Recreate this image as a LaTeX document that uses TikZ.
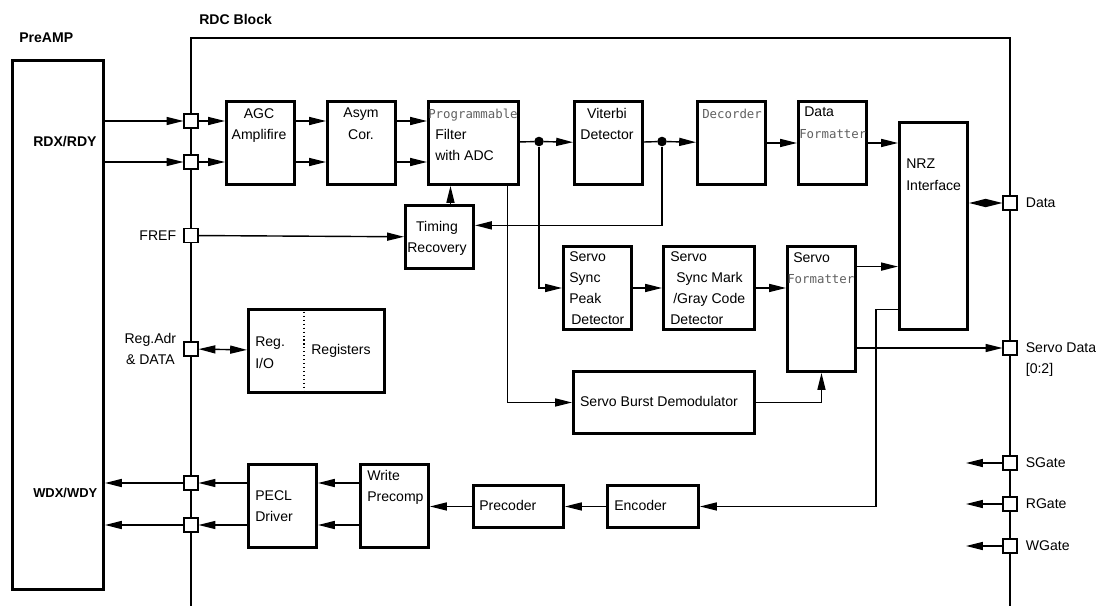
\documentclass[tikz,border=0pt]{standalone}
\usepackage{fontspec}
\setmainfont{Liberation Sans}
\newfontfamily\rdcmonofont{DejaVu Sans Mono}
\usetikzlibrary{positioning, arrows.meta}
\definecolor{mongray}{RGB}{95,95,95}
\newcommand{\grmono}[1]{{\rdcmonofont\fontsize{8.8}{15}\selectfont\color{mongray}#1}}

\begin{document}
\begin{tikzpicture}[x=0.25mm, y=-0.25mm,
    >={Triangle[length=4.2mm, width=2mm]},
    every node/.style={font=\fontsize{10}{15}\selectfont},
    blk/.style 2 args={draw, line width=2.1pt, inner sep=0, anchor=north west,
        minimum width=#1*0.25mm, minimum height=#2*0.25mm},
    port/.style={draw, fill=white, line width=0.8pt, inner sep=0, minimum size=3.5mm},
    dot/.style={circle, fill, inner sep=0, minimum size=2.4mm},
    txt/.style={inner sep=0, align=left, anchor=north west},
    ctxt/.style={inner sep=0, align=center, anchor=north},
    plbl/.style={inner sep=0},
    ttl/.style={inner sep=0, anchor=west, font=\fontsize{10}{15}\selectfont\bfseries},
    wire/.style={line width=1pt}]
    \useasboundingbox (0,0) rectangle (1096,606);

    % titles
    \node[ttl] (tpre) at (19,38) {PreAMP};
    \node[ttl] (trdc) at (199,19) {RDC Block};

    % PreAMP
    \node[blk={91}{529}] (pre) at (11,59) {};
    \node[ttl] (trdx) at (33,142) {RDX/RDY};
    \node[ttl, font=\fontsize{9.2}{15}\selectfont\bfseries] (twdx) at (33,493) {WDX/WDY};

    % RDC block outline
    \draw[line width=2.1pt] (191,606) -- (191,38) -- (1010,38) -- (1010,606);

    % read path
    \node[blk={68}{83}] (agc) at (225,100) {};
    \node[ctxt] (tagc) at (259,108) {AGC\\Amplifire};
    \node[blk={68}{83}] (asym) at (326,100) {};
    \node[ctxt] (tasym) at (361,108) {Asym\\Cor.};
    \node[blk={90}{83}] (filt) at (427,100) {};
    \node[txt] (tfilt) at (428,109) {\grmono{Programmable}\\\hspace*{1.75mm}Filter\\\hspace*{1.75mm}with ADC};
    \node[blk={68}{83}] (vit) at (573,100) {};
    \node[ctxt] (tvit) at (607,108) {Viterbi\\Detector};
    \node[blk={68}{83}] (dec) at (696,100) {};
    \node[txt] (tdec) at (702,109) {\grmono{Decorder}};
    \node[blk={68}{83}] (dfmt) at (797,100) {};
    \node[txt] (tdfmt) at (799,107) {\hspace*{1.25mm}Data\\\grmono{Formatter}};
    \node[blk={68}{207}] (nrz) at (898,121) {};
    \node[txt] (tnrz) at (906,159) {NRZ\\Interface};
    \node[blk={68}{63}] (tim) at (404,204) {};
    \node[ctxt] (ttim) at (437,221) {Timing\\Recovery};

    % servo path
    \node[blk={68}{83}] (ssp) at (562,245) {};
    \node[txt] (tssp) at (569,251) {Servo\\Sync\\Peak\\\hspace*{0.5mm}Detector};
    \node[blk={91}{83}] (ssm) at (662,245) {};
    \node[txt] (tssm) at (670,251) {Servo\\\hspace*{1.5mm}Sync Mark\\\hspace*{0.75mm}/Gray Code\\Detector};
    \node[blk={68}{125}] (sfmt) at (786,245) {};
    \node[txt] (tsfmt) at (787,252) {\hspace*{1.5mm}Servo\\\grmono{Formatter}};
    \node[blk={181}{62}] (sbd) at (572,370) {};
    \node[plbl] (tsbd) at (659,401) {Servo Burst Demodulator};

    % registers
    \node[blk={136}{83}] (reg) at (247,308) {};
    \draw[dotted, line width=0.8pt] ([xshift=14.25mm]reg.north west) -- ([xshift=14.25mm]reg.south west);
    \node[txt] (treg1) at (255,337) {Reg.\\I/O};
    \node[plbl, anchor=west] (treg2) at (311,351) {Registers};

    % write path
    \node[blk={68}{83}] (pecl) at (247,463) {};
    \node[txt] (tpecl) at (255,490) {PECL\\Driver};
    \node[blk={68}{83}] (wpre) at (359,463) {};
    \node[txt] (twpre) at (367,470) {Write\\Precomp};
    \node[blk={90}{42}] (prec) at (472,484) {};
    \node[plbl, anchor=west] (tprec) at (479,505) {Precoder};
    \node[blk={91}{42}] (enc) at (606,484) {};
    \node[plbl, anchor=west] (tenc) at (614,505) {Encoder};

    % pins
    \node[port] (pr1) at (191,121) {};
    \node[port] (pr2) at (191,162) {};
    \node[port] (pf) at (191,235.5) {};
    \node[port] (pra) at (191,349) {};
    \node[port] (pw1) at (191,483) {};
    \node[port] (pw2) at (191,525) {};
    \node[port] (pd) at (1010,203) {};
    \node[port] (psd) at (1010,348) {};
    \node[plbl, left=1.75mm of pf] (lfref) {FREF};
    \node[plbl, align=center, left=1.75mm of pra] (lreg) {Reg.Adr\\\& DATA};
    \node[plbl, right=2mm of pd] (ldata) {Data};
    \node[plbl, right=2mm of psd] (lsd) {Servo Data};
    \node[plbl, anchor=west] (lsd2) at ([yshift=-5.4mm]lsd.west) {[0:2]};

    \foreach \nm/\yy/\lb in {sg/463/SGate, rg/504/RGate, wg/546/WGate} {
        \node[port] (p\nm) at (1010,\yy) {};
        \coordinate (e\nm) at (966,\yy);
        \draw[wire, ->] (p\nm) -- (e\nm);
        \node[plbl, right=2mm of p\nm] (l\nm) {\lb};
    }

    % junctions
    \node[dot] (d1) at (539,141.5) {};
    \node[dot] (d2) at (662,141.5) {};

    % read connections
    \foreach \p in {pr1, pr2} {
        \draw[wire, ->] (pre.east |- \p) -- (\p);
        \draw[wire, ->] (\p) -- (\p -| agc.west);
        \draw[wire, ->] (agc.east |- \p) -- (asym.west |- \p);
        \draw[wire, ->] (asym.east |- \p) -- (filt.west |- \p);
    }
    \draw[wire] (filt) -- (d1);
    \draw[wire, ->] (d1) -- (vit);
    \draw[wire] (vit) -- (d2);
    \draw[wire, ->] (d2) -- (dec);
    \draw[wire, ->] (dec) -- (dfmt);
    \draw[wire, ->] (dfmt.east) -- (dfmt.east -| nrz.west);
    \draw[wire, ->] (d2) |- ([yshift=2.9mm]tim.east);
    \draw[wire, ->] ([xshift=2.75mm]tim.north) -- ([xshift=2.75mm]tim.north |- filt.south);
    \draw[wire, ->] (pf) -- (tim);
    \draw[wire, <->] (nrz.east |- pd) -- (pd);

    % servo connections
    \draw[wire, ->] (d1) |- (ssp);
    \draw[wire, ->] ([xshift=8.5mm]filt.south) |- (sbd);
    \draw[wire, ->] (ssp) -- (ssm);
    \draw[wire, ->] (ssm.east) -- (ssm.east -| sfmt.west);
    \draw[wire, ->] ([yshift=10.6mm]sfmt.east) -- ([yshift=10.6mm]sfmt.east -| nrz.west);
    \draw[wire, ->] (sfmt.east |- psd) -- (psd);
    \draw[wire, ->] (sbd) -| (sfmt);

    % register and write connections
    \draw[wire, <->] (pra) -- (reg);
    \draw[wire, ->] ([yshift=-20.9mm]nrz.west) -- ++(-22,0) |- (enc);
    \draw[wire, ->] (enc) -- (prec);
    \draw[wire, ->] (prec.west) -- (prec.west -| wpre.east);
    \foreach \p in {pw1, pw2} {
        \draw[wire, ->] (wpre.west |- \p) -- (pecl.east |- \p);
        \draw[wire, ->] (pecl.west |- \p) -- (\p);
        \draw[wire, ->] (\p) -- (\p -| pre.east);
    }
\end{tikzpicture}
\end{document}
